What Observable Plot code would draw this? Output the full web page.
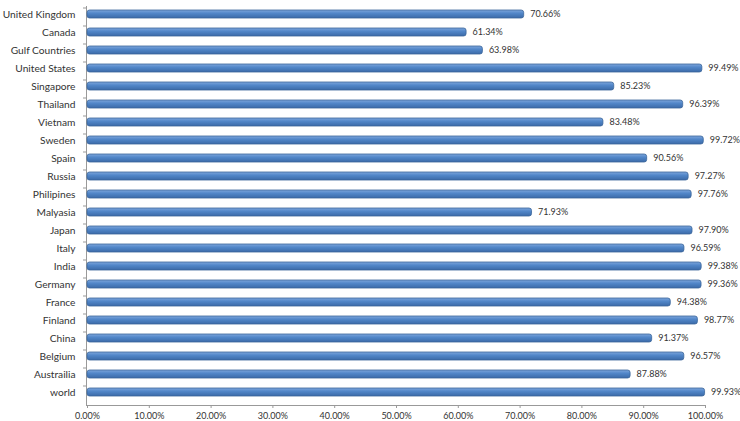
<!DOCTYPE html>
<html>
<head>
<meta charset="utf-8">
<script src="https://cdn.jsdelivr.net/npm/d3@7"></script>
<script src="https://cdn.jsdelivr.net/npm/@observablehq/plot@0.6"></script>
<style>
  html, body { margin: 0; padding: 0; background: #fff; }
  #chart svg { display: block; }
</style>
</head>
<body>
<div id="chart"></div>
<script>
const countries = ["United Kingdom", "Canada", "Gulf Countries", "United States", "Singapore", "Thailand", "Vietnam", "Sweden", "Spain", "Russia", "Philipines", "Malyasia", "Japan", "Italy", "India", "Germany", "France", "Finland", "China", "Belgium", "Austrailia", "world"];
const values = [70.66, 61.34, 63.98, 99.49, 85.23, 96.39, 83.48, 99.72, 90.56, 97.27, 97.76, 71.93, 97.90, 96.59, 99.38, 99.36, 94.38, 98.77, 91.37, 96.57, 87.88, 99.93];
const xTicks = [0, 10, 20, 30, 40, 50, 60, 70, 80, 90, 100];

const data = countries.map((c, i) => ({country: c, value: values[i]}));
const font = "Lato, 'Open Sans', sans-serif";

const svg = Plot.plot({
  width: 740,
  height: 421,
  marginLeft: 86,
  marginRight: 35,
  marginTop: 6,
  marginBottom: 16,
  style: {fontFamily: font, background: "#fff", color: "#333"},
  x: {domain: [0, 100], range: [87, 705]},
  y: {domain: countries, range: [7.4, 399.6], paddingInner: 0.55, paddingOuter: 0},
  marks: [
    Plot.frame({anchor: "left", stroke: "#999"}),
    Plot.frame({anchor: "bottom", stroke: "#999"}),
    Plot.axisX({ticks: xTicks, tickFormat: d => d.toFixed(2) + "%", tickSize: 3, tickPadding: 4, fontSize: 9, stroke: "#999", label: null, fill: "#333"}),
    Plot.axisY({tickSize: 3, tickFormat: () => "", dy: -6.5, stroke: "#999", label: null}),
    Plot.axisY({tickSize: 0, tickPadding: 11, fontSize: 10.2, label: null, fill: "#333"}),
    Plot.barX(data, {x: "value", y: "country", fill: "url(#barGrad)", stroke: "#3a6599", strokeWidth: 0.8, rx: 2.5}),
    Plot.text(data, {x: "value", y: "country", text: d => d.value.toFixed(2) + "%", dx: 6, textAnchor: "start", fontSize: 9, fill: "#333"})
  ]
});

const defs = d3.select(svg).insert("defs", ":first-child");
const g = defs.append("linearGradient").attr("id", "barGrad").attr("x1", 0).attr("y1", 0).attr("x2", 0).attr("y2", 1);
g.append("stop").attr("offset", "0%").attr("stop-color", "#7ea6dc");
g.append("stop").attr("offset", "40%").attr("stop-color", "#5287c9");
g.append("stop").attr("offset", "100%").attr("stop-color", "#3b6aa8");

document.getElementById("chart").appendChild(svg);
</script>
</body>
</html>
